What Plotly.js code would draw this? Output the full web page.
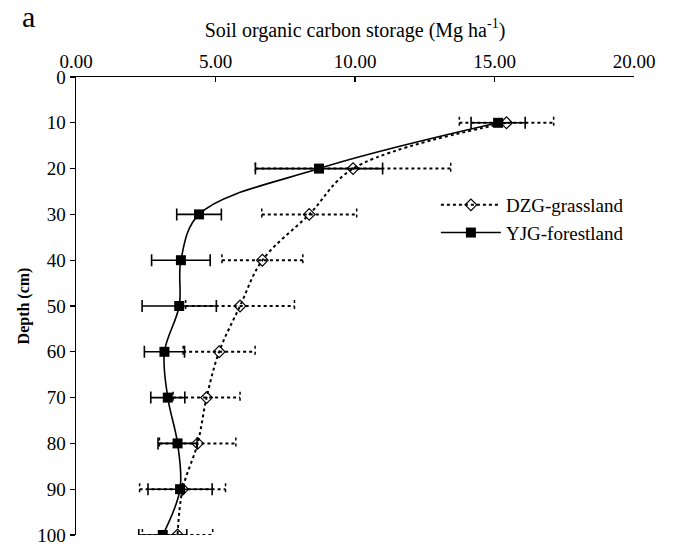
<!DOCTYPE html>
<html>
<head>
<meta charset="utf-8">
<script src="https://cdn.plot.ly/plotly-3.0.1.min.js"></script>
<style>html,body{margin:0;padding:0;background:#fff;}#chart{width:674px;height:543px;}</style>
</head>
<body>
<div id="chart"></div>
<script>
// Data
const depth = [10, 20, 30, 40, 50, 60, 70, 80, 90, 100];
const grassSOC = [15.43, 9.93, 8.36, 6.68, 5.88, 5.13, 4.68, 4.36, 3.82, 3.64];
const grassErr = [1.69, 3.50, 1.70, 1.45, 1.95, 1.29, 1.20, 1.37, 1.54, 1.26];
const forestSOC = [15.13, 8.71, 4.41, 3.76, 3.70, 3.17, 3.29, 3.64, 3.73, 3.11];
const forestErr = [0.97, 2.28, 0.80, 1.05, 1.33, 0.72, 0.61, 0.70, 1.15, 0.86];
const xTicks = [0, 5, 10, 15, 20];
const yTicks = [0, 10, 20, 30, 40, 50, 60, 70, 80, 90, 100];
const seriesNames = ['DZG-grassland', 'YJG-forestland'];

const serif = 'Liberation Serif, Times New Roman, serif';

// dotted error bars for grassland built from data arrays
const gbX = [], gbY = [], gcX = [], gcY = [];
const capH = 1.3;
depth.forEach((d, i) => {
  const lo = grassSOC[i] - grassErr[i], hi = grassSOC[i] + grassErr[i];
  gbX.push(lo, hi, null); gbY.push(d, d, null);
  gcX.push(lo, lo, null, hi, hi, null);
  gcY.push(d - capH, d + capH, null, d - capH, d + capH, null);
});

const traces = [
  {
    x: gbX, y: gbY, mode: 'lines', type: 'scatter', showlegend: false, hoverinfo: 'skip',
    line: {color: '#000', width: 2, dash: 'dot'}
  },
  {
    x: gcX, y: gcY, mode: 'lines', type: 'scatter', showlegend: false, hoverinfo: 'skip',
    line: {color: '#000', width: 1.5, dash: 'dot'}
  },
  {
    x: grassSOC, y: depth, name: seriesNames[0], type: 'scatter', mode: 'lines+markers',
    line: {color: '#000', width: 2, dash: 'dot', shape: 'spline'},
    marker: {symbol: 'diamond-open', size: 9, color: '#000', line: {width: 1.2, color: '#000'}}
  },
  {
    x: forestSOC, y: depth, name: seriesNames[1], type: 'scatter', mode: 'lines+markers',
    line: {color: '#000', width: 1.6, shape: 'spline'},
    marker: {symbol: 'square', size: 10, color: '#000'},
    error_x: {type: 'data', array: forestErr, visible: true, color: '#000', thickness: 1.6, width: 6}
  }
];

const layout = {
  width: 674, height: 543,
  margin: {l: 76, r: 40, t: 77, b: 8, pad: 0},
  paper_bgcolor: '#fff', plot_bgcolor: '#fff',
  font: {family: serif, size: 16, color: '#000'},
  showlegend: true,
  legend: {x: 0.645, y: 0.762, xanchor: 'left', yanchor: 'top', bgcolor: 'rgba(0,0,0,0)',
           itemwidth: 60,
           font: {family: serif, size: 19, color: '#000'}, tracegroupgap: 4},
  xaxis: {
    side: 'top', range: [0, 20], tickvals: xTicks, ticktext: xTicks.map(v => v.toFixed(2)),
    showgrid: false, zeroline: false, showline: true, linecolor: '#000', linewidth: 1.5,
    ticks: 'inside', ticklen: 5, tickwidth: 1.2, tickcolor: '#000',
    tickfont: {family: serif, size: 19, color: '#000'},
    title: {text: 'Soil organic carbon storage (Mg ha<sup>-1</sup>)', font: {family: serif, size: 20, color: '#000'}, standoff: 8}
  },
  yaxis: {
    range: [100, 0], tickvals: yTicks, ticklabeloverflow: 'allow',
    showgrid: false, zeroline: false, showline: true, linecolor: '#000', linewidth: 1.5,
    ticks: 'outside', ticklen: 5, tickwidth: 1.2, tickcolor: '#000',
    tickfont: {family: serif, size: 19, color: '#000'},
    title: {text: '<b>Depth (cm)</b>', font: {family: serif, size: 16, color: '#000'}, standoff: 3}
  },
  annotations: [
    {text: 'a', xref: 'paper', yref: 'paper', x: -0.086, y: 1.133, xanchor: 'center', yanchor: 'middle',
     showarrow: false, font: {family: serif, size: 30, color: '#000'}}
  ]
};

Plotly.newPlot('chart', traces, layout, {displayModeBar: false, staticPlot: true});
</script>
</body>
</html>
